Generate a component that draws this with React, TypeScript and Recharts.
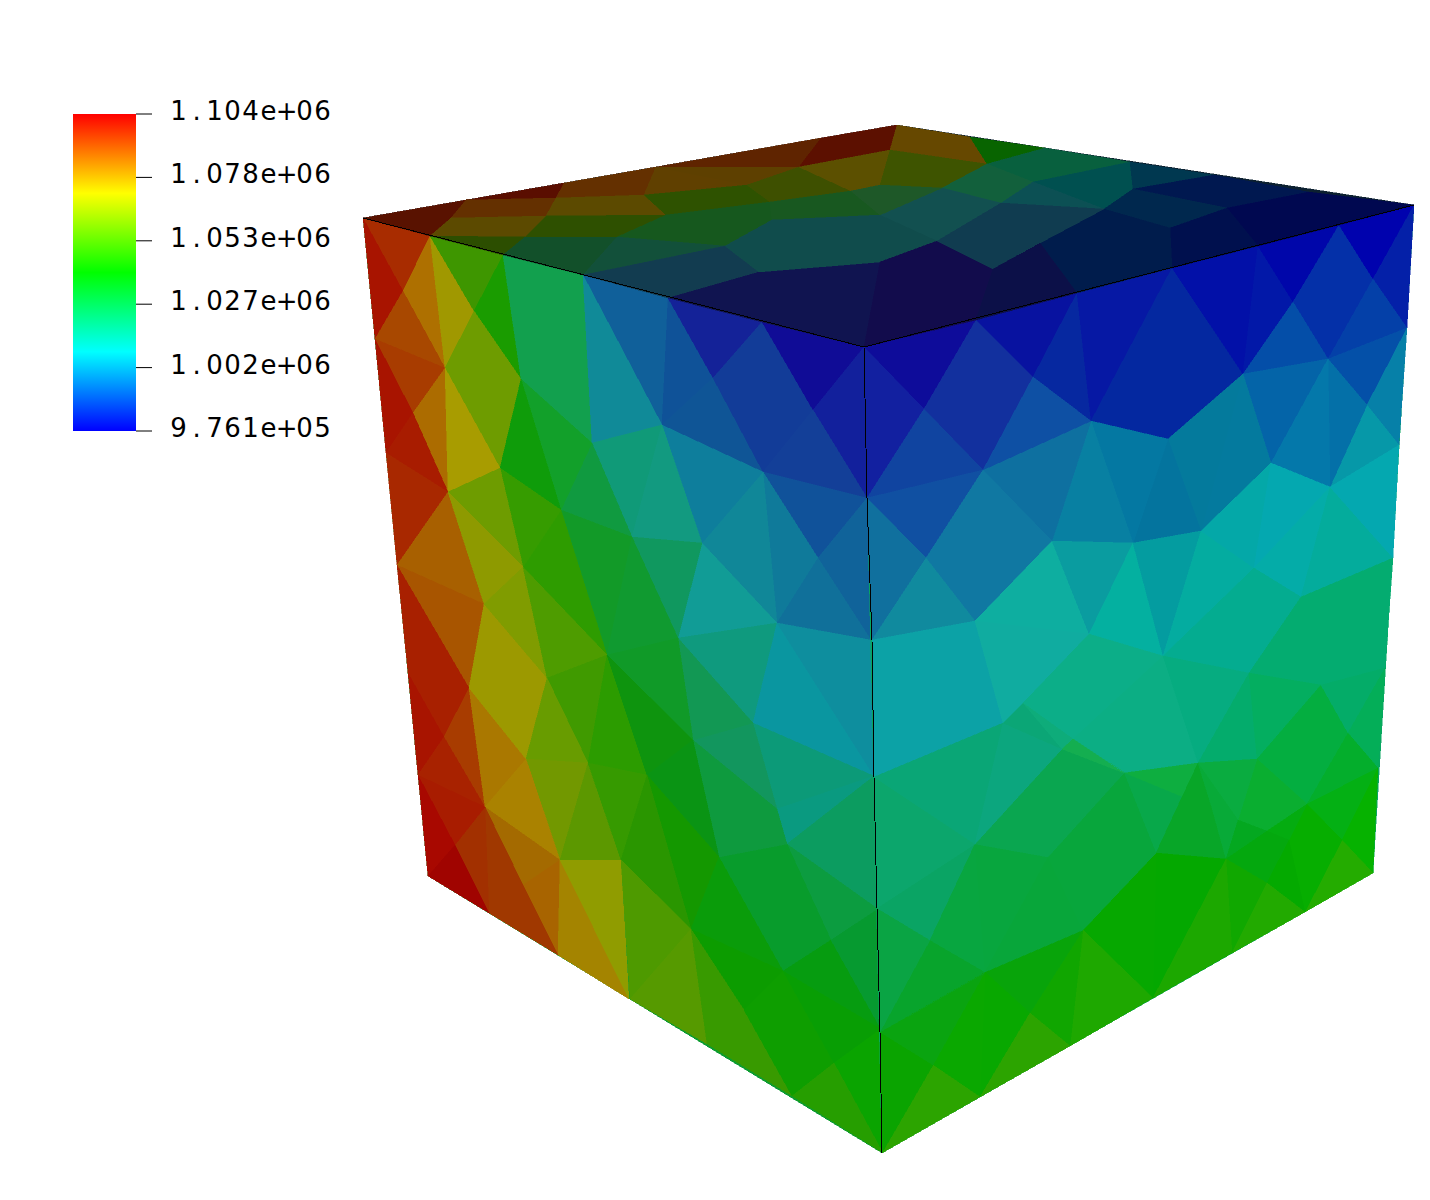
import { BarChart, Bar, XAxis, YAxis, ScatterChart, Scatter } from "recharts";

type Pt = number[];

// scalar bar
const barData = [{ name: "p", range: [976100, 1104000] }];
const barTicks = [976100, 1001680, 1027260, 1052840, 1078420, 1104000];
const barStops = ["#ff0000", "#ffff00", "#00ff00", "#00ffff", "#0000ff"];

// cube faces: x right, y down
const topFacets: Pt[][] = [
  [[363, 218], [897, 125], [1414, 205], [864, 347]],
  [[363, 218], [466, 200], [451, 218], [430, 236]],
  [[466, 200], [564, 183], [556, 198]],
  [[466, 200], [556, 198], [546, 216], [451, 218]],
  [[451, 218], [546, 216], [525, 237], [430, 236]],
  [[430, 236], [525, 237], [503, 255]],
  [[564, 183], [656, 167], [644, 195], [556, 198]],
  [[556, 198], [644, 195], [666, 215], [546, 216]],
  [[546, 216], [666, 215], [617, 237], [525, 237]],
  [[525, 237], [617, 237], [583, 275], [503, 255]],
  [[656, 167], [747, 185], [644, 195]],
  [[656, 167], [821, 138], [799, 167]],
  [[656, 167], [799, 167], [747, 185]],
  [[644, 195], [747, 185], [770, 202], [666, 215]],
  [[747, 185], [799, 167], [851, 191], [770, 202]],
  [[821, 138], [897, 125], [890, 150], [799, 167]],
  [[799, 167], [890, 150], [880, 185], [851, 191]],
  [[666, 215], [770, 202], [772, 220], [725, 246], [617, 237]],
  [[583, 275], [617, 237], [725, 246]],
  [[583, 275], [725, 246], [759, 272], [668, 298]],
  [[668, 298], [759, 272], [880, 262], [864, 347], [762, 322]],
  [[897, 125], [970, 137], [987, 164], [890, 150]],
  [[890, 150], [987, 164], [942, 188], [880, 185]],
  [[970, 137], [1045, 148], [987, 164]],
  [[987, 164], [1045, 148], [1130, 162], [1033, 182]],
  [[987, 164], [1033, 182], [1001, 203], [942, 188]],
  [[1033, 182], [1130, 162], [1133, 189], [1104, 209]],
  [[1033, 182], [1104, 209], [1001, 203]],
  [[1130, 162], [1214, 175], [1133, 189]],
  [[1214, 175], [1309, 192], [1227, 208], [1133, 189]],
  [[1133, 189], [1227, 208], [1170, 228], [1104, 209]],
  [[1227, 208], [1309, 192], [1414, 205], [1339, 225], [1258, 246]],
  [[1170, 228], [1227, 208], [1258, 246], [1172, 268]],
  [[1040, 243], [1104, 209], [1170, 228], [1172, 268], [1077, 293]],
  [[880, 215], [942, 188], [1001, 203], [937, 241]],
  [[770, 202], [851, 191], [880, 215], [772, 220]],
  [[851, 191], [880, 185], [942, 188], [880, 215]],
  [[772, 220], [880, 215], [937, 241], [880, 262], [759, 272], [725, 246]],
  [[880, 262], [937, 241], [993, 269], [976, 320], [864, 347]],
  [[937, 241], [1001, 203], [1104, 209], [1040, 243], [993, 269]],
  [[993, 269], [1040, 243], [1077, 293], [976, 320]],
];
const topColors = [
  "#0c2030",
  "#591200", "#5a0e00", "#643000", "#5c4a00", "#2c4e00",
  "#643000", "#5c4a00", "#2e5000", "#12502a",
  "#604000", "#5f2400", "#5e4000", "#2e5200", "#3e5000",
  "#5c1000", "#5c5000", "#16581e", "#12503a", "#123c50", "#101450",
  "#664800", "#3e5400", "#086400", "#08603e", "#12603c",
  "#005050", "#0c5054", "#003850", "#001850", "#00284e", "#000850", "#00104e", "#001c4c",
  "#125050", "#185820", "#1e5828", "#104c4c", "#120c4c", "#103c50", "#0c1048",
];

const leftFacets: Pt[][] = [
  [[363, 218], [864, 347], [882, 1153], [428, 876]],
  [[363, 218], [430, 236], [403, 291]],
  [[363, 218], [403, 291], [375, 339]],
  [[403, 291], [430, 236], [445, 368]],
  [[403, 291], [445, 368], [375, 339]],
  [[430, 236], [474, 311], [445, 368]],
  [[430, 236], [503, 255], [474, 311]],
  [[503, 255], [521, 379], [474, 311]],
  [[474, 311], [521, 379], [500, 468], [445, 368]],
  [[503, 255], [583, 275], [592, 443], [521, 379]],
  [[583, 275], [668, 298], [662, 425]],
  [[583, 275], [662, 425], [592, 443]],
  [[668, 298], [713, 378], [662, 425]],
  [[668, 298], [762, 322], [713, 378]],
  [[713, 378], [763, 472], [662, 425]],
  [[762, 322], [813, 410], [763, 472], [713, 378]],
  [[762, 322], [864, 347], [813, 410]],
  [[864, 347], [867, 498], [813, 410]],
  [[813, 410], [867, 498], [763, 472]],
  [[763, 472], [867, 498], [818, 558]],
  [[763, 472], [818, 558], [777, 623]],
  [[763, 472], [777, 623], [702, 543]],
  [[662, 425], [763, 472], [702, 543]],
  [[702, 543], [777, 623], [678, 638]],
  [[818, 558], [867, 498], [871, 640]],
  [[818, 558], [871, 640], [777, 623]],
  [[592, 443], [662, 425], [632, 537]],
  [[662, 425], [702, 543], [632, 537]],
  [[632, 537], [702, 543], [678, 638]],
  [[561, 510], [592, 443], [632, 537]],
  [[521, 379], [592, 443], [561, 510]],
  [[500, 468], [521, 379], [561, 510]],
  [[561, 510], [632, 537], [607, 655]],
  [[632, 537], [678, 638], [607, 655]],
  [[523, 567], [561, 510], [607, 655]],
  [[500, 468], [561, 510], [523, 567]],
  [[375, 339], [445, 368], [413, 413]],
  [[375, 339], [413, 413], [386, 453]],
  [[413, 413], [445, 368], [448, 492]],
  [[445, 368], [500, 468], [448, 492]],
  [[413, 413], [448, 492], [386, 453]],
  [[386, 453], [448, 492], [397, 565]],
  [[448, 492], [484, 604], [397, 565]],
  [[448, 492], [500, 468], [523, 567]],
  [[448, 492], [523, 567], [484, 604]],
  [[397, 565], [484, 604], [469, 688]],
  [[397, 565], [469, 688], [444, 737], [408, 673]],
  [[408, 673], [444, 737], [418, 775]],
  [[444, 737], [469, 688], [485, 807]],
  [[418, 775], [444, 737], [485, 807]],
  [[469, 688], [526, 759], [485, 807]],
  [[469, 688], [484, 604], [547, 678], [526, 759]],
  [[484, 604], [523, 567], [547, 678]],
  [[523, 567], [607, 655], [547, 678]],
  [[547, 678], [607, 655], [588, 763]],
  [[547, 678], [588, 763], [526, 759]],
  [[526, 759], [588, 763], [560, 860]],
  [[588, 763], [621, 860], [560, 860]],
  [[607, 655], [647, 775], [588, 763]],
  [[588, 763], [647, 775], [621, 860]],
  [[526, 759], [560, 860], [485, 807]],
  [[485, 807], [560, 860], [523, 885]],
  [[523, 885], [560, 860], [558, 955]],
  [[485, 807], [523, 885], [489, 913]],
  [[523, 885], [558, 955], [489, 913]],
  [[455, 845], [485, 807], [489, 913]],
  [[418, 775], [485, 807], [455, 845]],
  [[418, 775], [455, 845], [428, 876]],
  [[428, 876], [455, 845], [489, 913]],
  [[560, 860], [629, 999], [558, 955]],
  [[560, 860], [621, 860], [629, 999]],
  [[678, 638], [777, 623], [753, 723]],
  [[777, 623], [874, 776], [753, 723]],
  [[777, 623], [871, 640], [874, 776]],
  [[753, 723], [874, 776], [777, 809]],
  [[753, 723], [777, 809], [693, 740]],
  [[777, 809], [874, 776], [787, 844]],
  [[787, 844], [874, 776], [878, 909]],
  [[693, 740], [753, 723], [678, 638]],
  [[787, 844], [878, 909], [831, 940]],
  [[719, 857], [787, 844], [831, 940], [783, 971]],
  [[693, 740], [777, 809], [787, 844], [719, 857]],
  [[607, 655], [678, 638], [693, 740]],
  [[607, 655], [693, 740], [647, 775]],
  [[647, 775], [693, 740], [719, 857]],
  [[647, 775], [719, 857], [691, 929]],
  [[621, 860], [647, 775], [691, 929]],
  [[621, 860], [691, 929], [630, 999]],
  [[691, 929], [707, 1044], [630, 999]],
  [[691, 929], [719, 857], [783, 971]],
  [[691, 929], [783, 971], [744, 1010]],
  [[691, 929], [744, 1010], [792, 1096], [707, 1044]],
  [[783, 971], [834, 1063], [792, 1096], [744, 1010]],
  [[783, 971], [831, 940], [881, 1029]],
  [[783, 971], [881, 1029], [834, 1063]],
  [[831, 940], [878, 909], [881, 1029]],
  [[834, 1063], [881, 1029], [883, 1153]],
  [[792, 1096], [834, 1063], [883, 1153]],
];
const leftColors = [
  "#0c9c30",
  "#a82c00", "#a81400", "#ae7000", "#a84800", "#a09800", "#3e9600", "#1a9c00", "#6e9c00", "#12a04e",
  "#10609a", "#108a98", "#0f5298", "#142298", "#0f5596", "#123c98", "#100c96", "#12209c", "#133f98",
  "#10529a", "#0f7a9a", "#108798", "#0e7e9c", "#119c96", "#10639a", "#10709a",
  "#109a78", "#129a80", "#10985f", "#109a40", "#12a02a", "#0f9c0a", "#129a28", "#109a30", "#2e9c00", "#369c00",
  "#a83c00", "#a81400", "#ac6c00", "#a89c00", "#a81c00", "#a82800", "#a86000", "#6e9c00", "#8e9a00",
  "#a85500", "#a82000", "#a81400", "#a83c00", "#a82200", "#aa7800", "#9c9900", "#809c00", "#4e9c00",
  "#409a00", "#689c00", "#729800", "#5c9800", "#2c9c00", "#369a00", "#aa8200", "#a46a00", "#a86400",
  "#a03800", "#a03800", "#a23000", "#a81c00", "#a80800", "#a00400", "#a48400", "#909c00",
  "#0f9a7e", "#0a96a0", "#0e8e9e", "#0c9a78", "#12965e", "#0a9a80", "#0c9c60", "#129854",
  "#0c9c40", "#089c2c", "#0e9a3e", "#109a28", "#0e940e", "#0a9414", "#149800", "#2a9600",
  "#4e9a00", "#569a00", "#0a9c0a", "#0c9c00", "#389a00", "#0e9e00", "#069c10", "#089e04",
  "#069a30", "#0aa400", "#269e00",
];

const rightFacets: Pt[][] = [
  [[864, 347], [1414, 205], [1373, 873], [882, 1153]],
  [[864, 347], [976, 320], [924, 409]],
  [[864, 347], [924, 409], [867, 498]],
  [[976, 320], [1033, 377], [983, 470], [924, 409]],
  [[976, 320], [1077, 293], [1033, 377]],
  [[1077, 293], [1091, 421], [1033, 377]],
  [[1077, 293], [1172, 268], [1091, 421]],
  [[1172, 268], [1243, 374], [1168, 439], [1091, 421]],
  [[1172, 268], [1258, 246], [1243, 374]],
  [[1258, 246], [1293, 302], [1243, 374]],
  [[1258, 246], [1339, 225], [1293, 302]],
  [[1339, 225], [1373, 279], [1328, 359], [1293, 302]],
  [[1339, 225], [1414, 205], [1373, 279]],
  [[1373, 279], [1414, 205], [1407, 328]],
  [[1373, 279], [1407, 328], [1328, 359]],
  [[1293, 302], [1328, 359], [1243, 374]],
  [[1243, 374], [1328, 359], [1271, 463]],
  [[1328, 359], [1407, 328], [1367, 405]],
  [[1407, 328], [1399, 445], [1367, 405]],
  [[1367, 405], [1399, 445], [1330, 487]],
  [[1328, 359], [1367, 405], [1330, 487]],
  [[1328, 359], [1330, 487], [1271, 463]],
  [[1243, 374], [1271, 463], [1201, 531]],
  [[1168, 439], [1243, 374], [1201, 531]],
  [[1168, 439], [1201, 531], [1133, 543]],
  [[1091, 421], [1168, 439], [1133, 543]],
  [[1091, 421], [1133, 543], [1052, 541]],
  [[983, 470], [1091, 421], [1052, 541]],
  [[924, 409], [983, 470], [867, 498]],
  [[867, 498], [983, 470], [926, 558]],
  [[983, 470], [1033, 377], [1091, 421]],
  [[983, 470], [1052, 541], [975, 621], [926, 558]],
  [[867, 498], [926, 558], [872, 640]],
  [[926, 558], [975, 621], [872, 640]],
  [[975, 621], [1052, 541], [1089, 634]],
  [[1052, 541], [1133, 543], [1089, 634]],
  [[1133, 543], [1163, 656], [1089, 634]],
  [[1133, 543], [1201, 531], [1163, 656]],
  [[1201, 531], [1254, 568], [1163, 656]],
  [[1201, 531], [1271, 463], [1254, 568]],
  [[1271, 463], [1330, 487], [1254, 568]],
  [[1254, 568], [1330, 487], [1301, 597]],
  [[1330, 487], [1393, 558], [1301, 597]],
  [[1330, 487], [1399, 445], [1393, 558]],
  [[1163, 656], [1254, 568], [1301, 597], [1249, 673]],
  [[1249, 673], [1301, 597], [1393, 558], [1385, 668], [1321, 685]],
  [[872, 640], [975, 621], [1003, 723], [874, 777]],
  [[975, 621], [1089, 634], [1023, 703], [1003, 723]],
  [[1089, 634], [1163, 656], [1073, 739], [1023, 703]],
  [[1163, 656], [1198, 763], [1124, 773], [1073, 739]],
  [[1163, 656], [1249, 673], [1198, 763]],
  [[1249, 673], [1257, 759], [1198, 763]],
  [[1249, 673], [1321, 685], [1257, 759]],
  [[1321, 685], [1348, 733], [1307, 804], [1257, 759]],
  [[1321, 685], [1385, 668], [1348, 733]],
  [[1385, 668], [1378, 768], [1348, 733]],
  [[1348, 733], [1378, 768], [1307, 804]],
  [[1307, 804], [1378, 768], [1342, 840]],
  [[1378, 768], [1373, 873], [1342, 840]],
  [[1342, 840], [1373, 873], [1305, 912]],
  [[1307, 804], [1342, 840], [1305, 912], [1289, 840]],
  [[1257, 759], [1307, 804], [1267, 831], [1238, 820]],
  [[1198, 763], [1257, 759], [1238, 820]],
  [[1124, 773], [1198, 763], [1182, 797]],
  [[1124, 773], [1182, 797], [1156, 853]],
  [[1182, 797], [1198, 763], [1212, 808], [1226, 859], [1156, 853]],
  [[1198, 763], [1238, 820], [1226, 859], [1212, 808]],
  [[1238, 820], [1267, 831], [1226, 859]],
  [[1267, 831], [1307, 804], [1289, 840]],
  [[1226, 859], [1267, 831], [1289, 840], [1267, 883]],
  [[1267, 883], [1289, 840], [1305, 912]],
  [[1226, 859], [1267, 883], [1232, 953]],
  [[1267, 883], [1305, 912], [1232, 953]],
  [[1156, 853], [1226, 859], [1153, 998]],
  [[1226, 859], [1232, 953], [1153, 998]],
  [[1083, 930], [1156, 853], [1153, 998]],
  [[1083, 930], [1153, 998], [1070, 1046]],
  [[1083, 930], [1070, 1046], [1030, 1013]],
  [[985, 972], [1083, 930], [1030, 1013]],
  [[985, 972], [1030, 1013], [980, 1097]],
  [[1030, 1013], [1070, 1046], [980, 1097]],
  [[933, 1065], [985, 972], [980, 1097]],
  [[882, 1153], [933, 1065], [980, 1097]],
  [[880, 1032], [933, 1065], [882, 1153]],
  [[880, 1032], [985, 972], [933, 1065]],
  [[880, 1032], [930, 940], [985, 972]],
  [[877, 908], [930, 940], [880, 1032]],
  [[877, 908], [975, 844], [930, 940]],
  [[930, 940], [975, 844], [985, 972]],
  [[975, 844], [1048, 857], [985, 972]],
  [[1048, 857], [1083, 930], [985, 972]],
  [[1048, 857], [1124, 773], [1156, 853], [1083, 930]],
  [[975, 844], [1062, 749], [1124, 773], [1048, 857]],
  [[874, 777], [975, 844], [877, 908]],
  [[874, 777], [1003, 723], [975, 844]],
  [[1003, 723], [1062, 749], [975, 844]],
  [[1003, 723], [1023, 703], [1062, 749]],
  [[1023, 703], [1073, 739], [1062, 749]],
  [[1062, 749], [1073, 739], [1124, 773]],
];
const rightColors = [
  "#08a660",
  "#0e0c9a", "#1220a0", "#12309e", "#0812a0", "#0628a0", "#0618a4", "#0428a0", "#0210a8", "#0218a8", "#0006aa",
  "#0430a8", "#0002ae", "#0420a8", "#0440a8", "#044ea8", "#0464a8", "#0450a8", "#0680a8", "#0698a8", "#0470a8",
  "#0478aa", "#047a9e", "#047a9c", "#04749e", "#0478a2", "#0880a2", "#0e70a0", "#1044a0", "#1050a2", "#0e50a4",
  "#1078a2", "#10709e", "#108a9e", "#0eaea0", "#0a9ca0", "#04b0a0", "#049ca0", "#04aca0", "#04a8a8", "#04a8b0",
  "#04aca8", "#04ac9c", "#04a8b0", "#04ac90", "#04ac70", "#0ca2a6", "#10aca0", "#0cae88", "#0cae84", "#06ac80",
  "#04ac6c", "#04ae60", "#04ae40", "#04ac68", "#04ae58", "#04ae2c", "#04b014", "#06b200", "#24ac00", "#06ae00",
  "#0aae30", "#0aac40", "#0eae40", "#08a84a", "#08a628", "#08aa38", "#04a820", "#04ac10", "#04a80e", "#04aa00",
  "#10a800", "#22aa00", "#04a800", "#1ca800", "#06a800", "#1ea800", "#10a600", "#08a40a", "#08a800", "#2ca400",
  "#0aa800", "#2ca400", "#0aa400", "#0aa410", "#08a42c", "#0aa444", "#0aa464", "#08a640", "#08a63e", "#08a63a",
  "#08a63c", "#0aa650", "#0ca66c", "#0aa676", "#0ca67e", "#0ba676", "#0eac7a", "#14ae50",
];

const edgePaths: Pt[][] = [
  [[363, 218], [864, 347], [1414, 205]],
  [[864, 347], [867, 498], [872, 640], [874, 777], [877, 908], [880, 1032], [882, 1153]],
];

// top goes last so the side faces cannot poke above the shared edge
const facets = [...leftFacets, ...rightFacets, ...topFacets];
const facetColors = [...leftColors, ...rightColors, ...topColors];

const asPoints = (pts: Pt[]) => pts.map(([x, y]) => ({ x, y }));
const noDot = () => <g />;

const facetLine = (color: string) => (props: any) => (
  <polygon
    points={props.points.map((p: any) => `${p.x},${p.y}`).join(" ")}
    fill={color}
    stroke={color}
    strokeWidth={0.5}
    shapeRendering="crispEdges"
  />
);

const edgeLine = (props: any) => (
  <polyline
    points={props.points.map((p: any) => `${p.x},${p.y}`).join(" ")}
    fill="none"
    stroke="#000"
    strokeWidth={1}
    shapeRendering="crispEdges"
  />
);

const formatTick = (v: number) => v.toExponential(3).replace(/e\+(\d)$/, "e+0$1");

// the labels are monospaced in the original, so each glyph gets its own cell
const BarTick = ({ x, y, payload }: any) => (
  <text y={y + 6} fontFamily="DejaVu Sans" fontSize={26} fill="#000">
    {formatTick(payload.value).split("").map((c, i) => (
      <tspan key={i} x={x + 24.6 + i * 18} textAnchor="middle">{c}</tspan>
    ))}
  </text>
);

export default function App() {
  return (
    <div style={{ position: "absolute", left: 0, top: 0, width: 1430, height: 1200, background: "#fff" }}>
      <div style={{ position: "absolute", left: 0, top: 0 }}>
        <ScatterChart width={1430} height={1200} margin={{ top: 0, right: 0, bottom: 0, left: 0 }}>
          <XAxis type="number" dataKey="x" domain={[0, 1430]} hide />
          <YAxis type="number" dataKey="y" domain={[0, 1200]} reversed hide />
          {facets.map((f, i) => (
            <Scatter
              key={i}
              data={asPoints(f)}
              line={facetLine(facetColors[i])}
              shape={noDot}
              isAnimationActive={false}
            />
          ))}
          {edgePaths.map((e, i) => (
            <Scatter
              key={`edge-${i}`}
              data={asPoints(e)}
              line={edgeLine}
              shape={noDot}
              isAnimationActive={false}
            />
          ))}
        </ScatterChart>
      </div>
      <div style={{ position: "absolute", left: 0, top: 0 }}>
        <BarChart
          width={400}
          height={500}
          data={barData}
          barCategoryGap={0}
          margin={{ top: 114, right: 64, bottom: 69, left: 73 }}
        >
          <defs>
            <linearGradient id="rainbow" x1="0" y1="0" x2="0" y2="1">
              {barStops.map((c, i) => (
                <stop key={c} offset={`${(i * 100) / (barStops.length - 1)}%`} stopColor={c} />
              ))}
            </linearGradient>
          </defs>
          <XAxis dataKey="name" hide />
          <YAxis
            orientation="right"
            type="number"
            domain={[976100, 1104000]}
            allowDataOverflow
            ticks={barTicks}
            interval={0}
            width={200}
            axisLine={false}
            tickSize={16}
            tickMargin={2}
            tickLine={{ stroke: "#000", strokeWidth: 1 }}
            tick={<BarTick />}
          />
          <Bar dataKey="range" fill="url(#rainbow)" isAnimationActive={false} />
        </BarChart>
      </div>
    </div>
  );
}
